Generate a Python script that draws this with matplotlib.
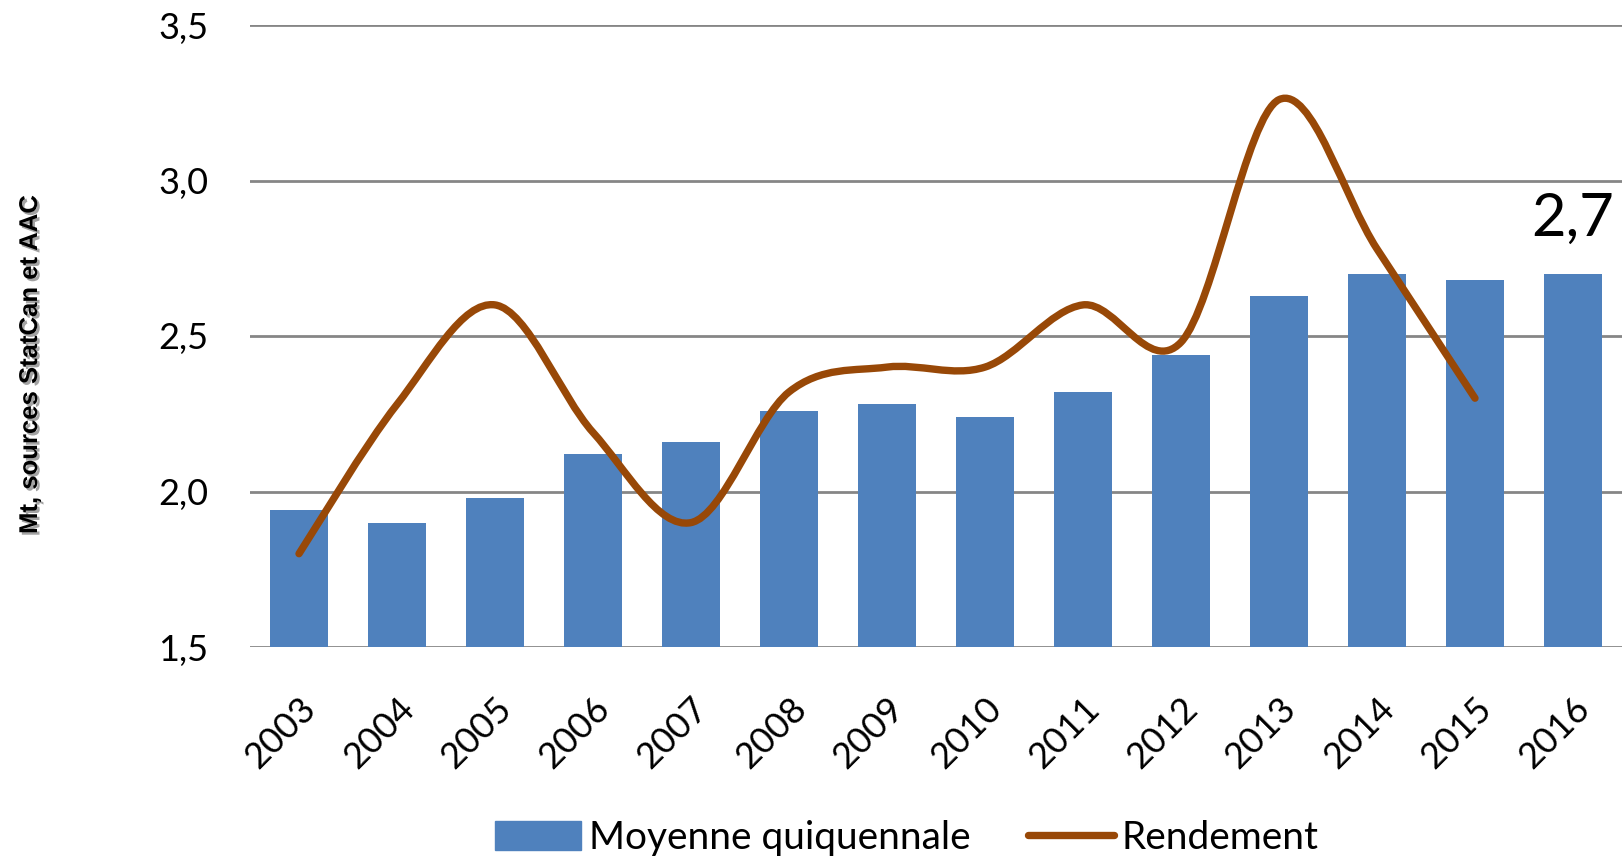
import numpy as np
import matplotlib
matplotlib.use("Agg")
import matplotlib.pyplot as plt
import matplotlib.patheffects as pe
from matplotlib.path import Path
from matplotlib.patches import PathPatch
from matplotlib.lines import Line2D
from matplotlib.transforms import ScaledTranslation

# data
years = ["2003", "2004", "2005", "2006", "2007", "2008", "2009",
         "2010", "2011", "2012", "2013", "2014", "2015", "2016"]
moyenne = [1.94, 1.90, 1.98, 2.12, 2.16, 2.26, 2.28,
           2.24, 2.32, 2.44, 2.63, 2.70, 2.68, 2.70]
rendement = [1.80, 2.28, 2.60, 2.19, 1.90, 2.32, 2.40,
             2.40, 2.60, 2.48, 3.26, 2.78, 2.30]
yticks = [1.5, 2.0, 2.5, 3.0, 3.5]
last_label = "2,7"

bar_color = "#4F81BD"
line_color = "#984807"
grid_color = "#868686"
font = ["Lato", "DejaVu Sans"]

plt.rcParams['font.family'] = font

fig = plt.figure(figsize=(16.22, 8.61), dpi=100)
ax = fig.add_axes([250 / 1622, 1 - 647 / 861, 1.0 - 250 / 1622, (647 - 25) / 861])

x = np.arange(len(years))
ax.bar(x, moyenne, width=0.6, color=bar_color, zorder=2,
       label="Moyenne quiquennale")

# smoothed line, excel style bezier through the points
pts = np.column_stack([np.arange(len(rendement)), rendement])
verts = [pts[0]]
codes = [Path.MOVETO]
n = len(pts)
for i in range(n - 1):
    p0 = pts[max(i - 1, 0)]
    p1 = pts[i]
    p2 = pts[i + 1]
    p3 = pts[min(i + 2, n - 1)]
    c1 = p1 + (p2 - p0) / 6.0
    c2 = p2 - (p3 - p1) / 6.0
    verts += [c1, c2, p2]
    codes += [Path.CURVE4] * 3
patch = PathPatch(Path(verts, codes), facecolor="none", edgecolor=line_color,
                  lw=5.3, capstyle="round", joinstyle="round", zorder=3)
ax.add_patch(patch)

ax.annotate(last_label, xy=(x[-1], moyenne[-1]), xytext=(0, 27),
            textcoords="offset points", ha="center", va="baseline",
            fontsize=43, color="black")

ax.set_xlim(-0.5, len(years) - 0.5)
ax.set_ylim(1.5, 3.5)
ax.set_yticks(yticks)
ax.set_yticklabels([("%.1f" % v).replace(".", ",") for v in yticks], fontsize=26)
ax.set_xticks(x)
ax.set_xticklabels(years, fontsize=26, rotation=45, ha="right", va="top",
                   rotation_mode="anchor")
offset = ScaledTranslation(6 / 100, 0, fig.dpi_scale_trans)
for lab in ax.get_xticklabels():
    lab.set_transform(lab.get_transform() + offset)
ax.tick_params(axis="x", length=0, pad=32)
ax.tick_params(axis="y", length=0, pad=30)

ax.yaxis.grid(True, color=grid_color, lw=2, zorder=0)
ax.set_axisbelow(True)
for s in ax.spines.values():
    s.set_visible(False)

fig.text(30 / 1622, 1 - 364 / 861, "Mt, sources StatCan et AAC", rotation=90,
         ha="center", va="center", fontsize=18.5, fontweight="bold",
         family=["Liberation Sans", "DejaVu Sans"],
         path_effects=[pe.SimplePatchShadow(offset=(1.8, -1.8),
                                            shadow_rgbFace="#999999", alpha=0.9),
                       pe.Normal()])

handles = [plt.Rectangle((0, 0), 1, 1, color=bar_color),
           Line2D([0], [0], color=line_color, lw=5.3, solid_capstyle="round")]
fig.legend(handles, ["Moyenne quiquennale", "Rendement"], loc="center",
           bbox_to_anchor=(907 / 1622, 1 - 838 / 861), ncol=2, frameon=False,
           fontsize=28, handlelength=2.2, handleheight=0.75, handletextpad=0.2,
           columnspacing=1.5)

fig.savefig("out.png", dpi=100)
